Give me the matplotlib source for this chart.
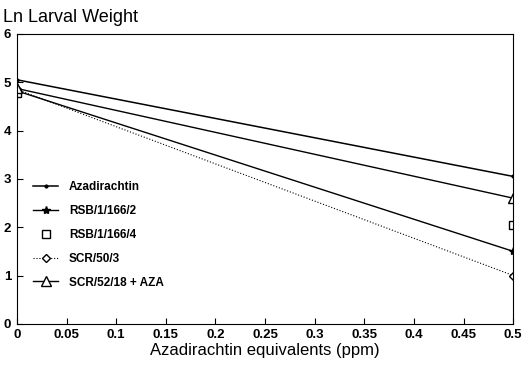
import matplotlib.pyplot as plt

plt.rcParams['font.family'] = ['Liberation Sans', 'DejaVu Sans']

# doses (ppm)
dose = [0, 0.5]

# Ln larval weight per treatment
aza = [5.05, 3.05]
rsb2 = [4.82, 1.5]
rsb4 = [4.78, 2.05]
scr50 = [4.85, 1.0]
scr52 = [4.87, 2.6]

labels = ['Azadirachtin', 'RSB/1/166/2', 'RSB/1/166/4', 'SCR/50/3', 'SCR/52/18 + AZA']

fig = plt.figure(figsize=(5.28, 3.68), dpi=100)
ax = fig.add_axes([0.032, 0.12, 0.94, 0.788])

ax.plot(dose, aza, color='black', lw=1.1, marker='.', ms=4, label=labels[0])
ax.plot(dose, rsb2, color='black', lw=1.0, marker='*', ms=6, mfc='black', label=labels[1])
ax.plot(dose, rsb4, color='black', lw=0, marker='s', ms=5.5, mfc='white', label=labels[2])
ax.plot(dose, scr50, color='black', lw=0.8, ls=':', marker='D', ms=4.5, mfc='white', label=labels[3])
ax.plot(dose, scr52, color='black', lw=1.0, marker='^', ms=6.5, mfc='white', label=labels[4])

ax.set_xlim(0, 0.5)
ax.set_ylim(0, 6)
ax.set_xticks([0, 0.05, 0.1, 0.15, 0.2, 0.25, 0.3, 0.35, 0.4, 0.45, 0.5])
ax.set_xticklabels(['0', '0.05', '0.1', '0.15', '0.2', '0.25', '0.3', '0.35', '0.4', '0.45', '0.5'])
ax.set_yticks(range(7))
ax.tick_params(direction='in', length=4, labelsize=9.5, width=0.8, pad=4)
for lbl in ax.get_xticklabels() + ax.get_yticklabels():
    lbl.set_fontweight('bold')

ax.set_xlabel('Azadirachtin equivalents (ppm)', fontsize=12, labelpad=1)
fig.text(0.006, 0.93, 'Ln Larval Weight', fontsize=13, ha='left', va='bottom')

leg = ax.legend(loc='lower left', bbox_to_anchor=(0.012, 0.085), frameon=False,
                fontsize=8.5, handlelength=2.1, handletextpad=0.9, labelspacing=1.0)
for t in leg.get_texts():
    t.set_fontweight('bold')

fig.savefig('out.png', dpi=100)
